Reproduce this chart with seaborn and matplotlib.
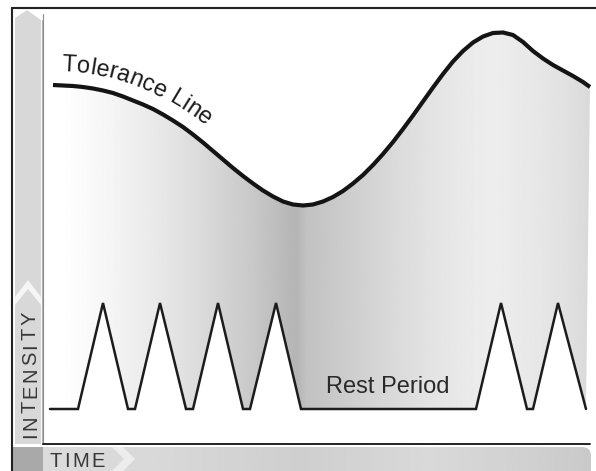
import numpy as np
import pandas as pd
import matplotlib
matplotlib.use("Agg")
import matplotlib.pyplot as plt
import seaborn as sns
from matplotlib.patches import Polygon, FancyBboxPatch, Rectangle
from matplotlib.font_manager import FontProperties
from matplotlib.textpath import text_to_path

# ---------------- data ----------------
tolerance_time = [8, 18, 28, 38, 48, 58, 68, 78, 88, 98, 108, 118, 128, 138, 148, 158,
                  168, 178, 188, 198, 208, 218, 228, 238, 248, 258, 268, 278, 288, 298,
                  308, 318, 328, 338, 348, 358, 368, 378, 388, 398, 408, 418, 428, 438,
                  448, 458, 468, 478, 488, 498, 508, 518, 528, 538, 545]
tolerance_level = [358, 357.5, 357, 356, 354.5, 352.5, 350, 346.5, 342.5, 338.5, 334,
                   328.5, 322.5, 316, 308.5, 300.5, 292, 283.5, 275, 267, 259.5, 252.5,
                   246.5, 241.5, 238.5, 237.5, 238.5, 241.5, 246, 252, 259.5, 268, 278,
                   289, 301, 314, 327.5, 341.5, 355.5, 369, 381.5, 392, 400.5, 406.5,
                   410, 410.5, 408, 401, 392, 384.5, 378, 372.5, 367, 361, 356]
intensity_time = [5, 33, 58, 83, 90, 115, 141, 148, 173, 198, 205, 231, 256,
                  431, 456, 482, 488, 513, 541]
intensity_level = [34, 34, 140, 34, 34, 140, 34, 34, 140, 34, 34, 140, 34,
                   34, 140, 34, 34, 140, 34]
tolerance_label = "Tolerance Line"
rest_label = "Rest Period"
rest_label_pos = (343, 50)
y_axis_label = "INTENSITY"
x_axis_label = "TIME"

# ---------------- figure ----------------
sns.set_style("white")
plt.rcParams["font.family"] = ["Liberation Sans", "DejaVu Sans"]

W, H = 596, 471
DPI = 100
fig = plt.figure(figsize=(W / DPI, H / DPI), dpi=DPI)
fig.patch.set_facecolor("white")

# plot area: pixel x 45..591, y 8..443
ax = fig.add_axes([45 / W, (H - 443) / H, 546 / W, 435 / H])

# gradient fill between intensity and tolerance lines
grad_t = [0, 15, 55, 105, 155, 205, 245, 252, 262, 290, 335, 385, 425, 450, 485, 515, 546]
grad_v = [1.0, 1.0, 0.97, 0.92, 0.86, 0.79, 0.72, 0.71, 0.76, 0.79, 0.84, 0.89, 0.92,
          0.93, 0.91, 0.89, 0.85]
img = np.interp(np.linspace(0, 546, 800), grad_t, grad_v)[None, :]
im = ax.imshow(img, extent=(0, 546, 0, 435), cmap="gray", vmin=0, vmax=1,
               aspect="auto", interpolation="bilinear", zorder=1)
verts = list(zip(tolerance_time, tolerance_level)) + \
    list(zip(intensity_time[::-1], intensity_level[::-1]))
clip_poly = Polygon(verts, closed=True, transform=ax.transData)
im.set_clip_path(clip_poly)

df_tol = pd.DataFrame({"time": tolerance_time, "level": tolerance_level})
df_int = pd.DataFrame({"time": intensity_time, "level": intensity_level})
sns.lineplot(data=df_tol, x="time", y="level", ax=ax, color="#141414", linewidth=3.0,
             estimator=None, sort=False, zorder=3, solid_joinstyle="round",
             solid_capstyle="butt")
sns.lineplot(data=df_int, x="time", y="level", ax=ax, color="#1c1c1c", linewidth=1.8,
             estimator=None, sort=False, zorder=3, solid_joinstyle="miter")
ax.set_xlim(0, 546)
ax.set_ylim(0, 435)
ax.axis("off")

ax.text(rest_label_pos[0], rest_label_pos[1], rest_label, ha="center", va="baseline",
        fontsize=17, color="#2a2a2a", family="Liberation Sans", zorder=4)

# ---------------- overlay in figure pixels ----------------
ov = fig.add_axes([0, 0, 1, 1], zorder=5)
ov.patch.set_alpha(0)

# left bar
ov.add_patch(Polygon([(15, 444), (15, 18), (27, 10), (41, 20), (41, 444)],
                     closed=True, fc="#d8d8d8", ec="none"))
ov.plot([41.5, 41.5], [20, 444], color="#b0b0b0", lw=0.8)
ov.plot([43, 43], [14, 444], color="#8c8c8c", lw=0.8)
ov.add_patch(Polygon([(15, 297), (28, 280), (41, 297), (41, 305), (28, 289), (15, 305)],
                     closed=True, fc="#f5f5f5", ec="none"))

# bottom bar with gradient and rounded right end
bar = FancyBboxPatch((13, 447), 578, 40, boxstyle="round,pad=0,rounding_size=9",
                     fc="none", ec="none")
ov.add_patch(bar)
bar_t = [13, 150, 300, 430, 520, 591]
bar_v = [0.86, 0.85, 0.81, 0.85, 0.82, 0.79]
bimg = np.interp(np.linspace(13, 591, 600), bar_t, bar_v)[None, :]
bim = ov.imshow(bimg, extent=(13, 591, 447, 487), cmap="gray", vmin=0, vmax=1,
                aspect="auto", interpolation="bilinear", zorder=1)
bim.set_clip_path(bar)
ov.add_patch(Rectangle((13, 447), 30, 30, fc="#a9a9a9", ec="none", zorder=2))
ov.add_patch(Polygon([(112, 447), (123, 447), (135, 459), (123, 471), (112, 471), (124, 459)],
                     closed=True, fc="#ededed", ec="none", zorder=2))

# axis line and borders
ov.plot([43, 590], [444, 444], color="#111111", lw=1.3, zorder=3)
ov.plot([12, 596], [8, 8], color="#222222", lw=1.5, zorder=3)
ov.plot([12, 12], [8, 471], color="#222222", lw=1.5, zorder=3)


def adv(ch, fp):
    w1, _, _ = text_to_path.get_text_width_height_descent("|" + ch + "|", fp, ismath=False)
    w0, _, _ = text_to_path.get_text_width_height_descent("||", fp, ismath=False)
    return (w1 - w0) * DPI / 72.0


# axis labels, letter by letter
fp_ax = FontProperties(family="Liberation Sans", size=14.5)
y = 438.0
for ch in y_axis_label:
    w = adv(ch, fp_ax)
    ov.text(36, y - w / 2, ch, rotation=90, rotation_mode="anchor", ha="center",
            va="baseline", fontproperties=fp_ax, color="#383838", zorder=4)
    y -= w + 2.6
x = 50.0
for ch in x_axis_label:
    w = adv(ch, fp_ax)
    ov.text(x + w / 2, 467, ch, ha="center", va="baseline", fontproperties=fp_ax,
            color="#383838", zorder=4)
    x += w + 2.3

# curved "Tolerance Line" label
fp_tl = FontProperties(family="Liberation Sans", size=17)
P = np.column_stack([np.array(tolerance_time, float) + 45,
                     443 - np.array(tolerance_level, float)])
seg = np.hypot(*np.diff(P, axis=0).T)
sp = np.concatenate([[0], np.cumsum(seg)])
sd = np.linspace(0, sp[-1], 4000)
xd = np.interp(sd, sp, P[:, 0])
yd = np.interp(sd, sp, P[:, 1])
k = 61
ker = np.ones(k) / k
xs_ = np.convolve(np.pad(xd, k // 2, mode="edge"), ker, mode="valid")
ys_ = np.convolve(np.pad(yd, k // 2, mode="edge"), ker, mode="valid")
tx = np.gradient(xs_)
ty = np.gradient(ys_)
nn = np.hypot(tx, ty)
tx /= nn
ty /= nn
ang = np.arctan2(ty, tx)
off = 14.0
ox = xs_ + off * ty
oy = ys_ - off * tx
so = np.concatenate([[0], np.cumsum(np.hypot(np.diff(ox), np.diff(oy)))])
i0 = int(np.argmin(np.abs(ox - 62)))
cur = so[i0]
for ch in tolerance_label:
    w = adv(ch, fp_tl)
    c = cur + w / 2
    if ch != " ":
        cx = np.interp(c, so, ox)
        cy = np.interp(c, so, oy)
        a = np.interp(c, so, ang)
        ov.text(cx, cy, ch, rotation=-np.degrees(a), rotation_mode="anchor",
                ha="center", va="baseline", fontproperties=fp_tl, color="#1a1a1a",
                zorder=4)
    cur += w

ov.set_xlim(0, W)
ov.set_ylim(H, 0)
ov.axis("off")

fig.savefig("out.png", dpi=DPI, facecolor="white")
